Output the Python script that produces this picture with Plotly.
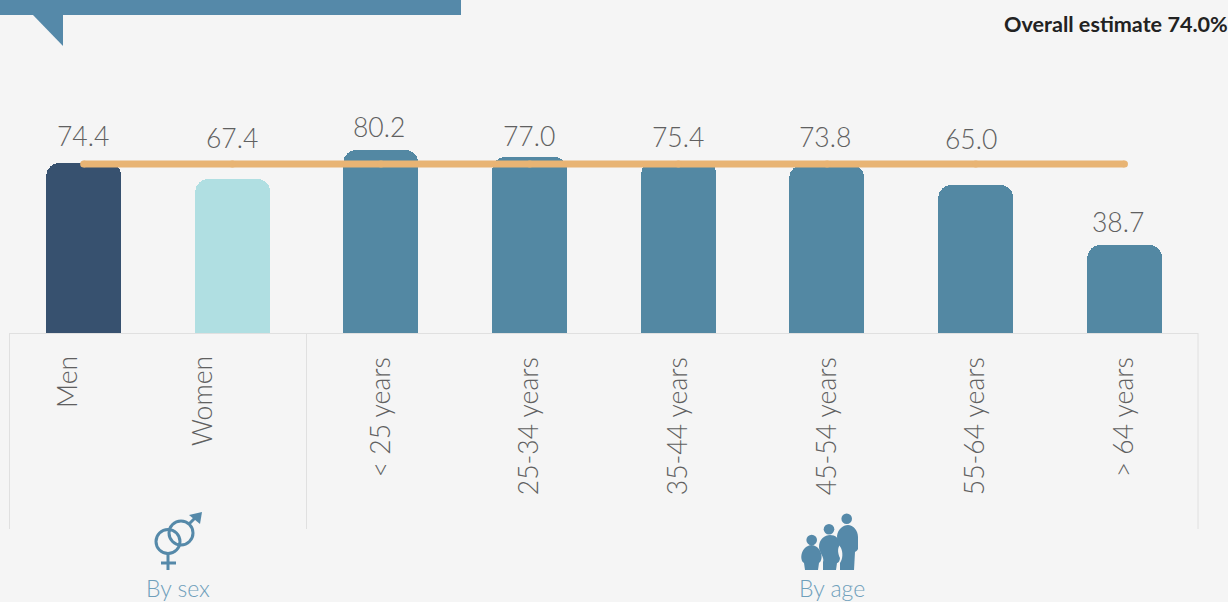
import plotly.graph_objects as go

categories = ["Men", "Women", "< 25 years", "25-34 years", "35-44 years", "45-54 years", "55-64 years", "> 64 years"]
values = [74.4, 67.4, 80.2, 77.0, 75.4, 73.8, 65.0, 38.7]
overall = [74.0] * len(categories)
bar_colors = ["#37516f", "#b0dfe2", "#5388a3", "#5388a3", "#5388a3", "#5388a3", "#5388a3", "#5388a3"]
age_ticks = categories[2:]

W, H = 1228, 602
BASE, TOP_SCALE = 333, 2.283
BLUE, GREY, RULE = "#5589a9", "#606060", "#e0e0e0"
LABEL_FONT = dict(family="Lato", size=26.5, color=GREY, weight=300)

fig = go.Figure()
fig.add_bar(x=categories, y=values, marker=dict(color=bar_colors, line_width=0), width=75 / 148.7, hoverinfo="x+y")
fig.add_scatter(x=categories, y=overall, mode="lines+markers", line=dict(color="#e8b474", width=7),
                marker=dict(color="#e8b474", size=7), hoverinfo="y")
fig.add_scatter(x=[0], y=[0], xaxis="x2", yaxis="y2", mode="markers", marker=dict(opacity=0), hoverinfo="skip")

# value labels: offset (px) from the bar top, as placed in the reference
lift = [27, 41, 23, 21, 24, 28, 46, 23]
nudge = [-1, 0, -2, -1, 0, -2, -5, -6]
ann = []
for c, v, dy, dx in zip(categories, values, lift, nudge):
    ann.append(dict(x=c, y=v, xref="x", yref="y", text=f"{v:.1f}", showarrow=False, yshift=dy, xshift=dx,
                    yanchor="middle", font=LABEL_FONT))
# sex labels sit off-centre in the reference
for c, px in zip(categories[:2], [67, 202]):
    ann.append(dict(x=px, y=354, xref="x2", yref="y2", text=c, textangle=-90, showarrow=False,
                    xanchor="center", yanchor="top", font=LABEL_FONT))
ann.append(dict(x=1228, xshift=1.5, y=23.5, xref="x2", yref="y2", text="<b>Overall estimate 74.0%</b>", showarrow=False,
                xanchor="right", yanchor="middle", font=dict(family="Lato", size=21.6, color="#222222")))
for t, px in [("By sex", 178), ("By age", 832)]:
    ann.append(dict(x=px, y=588, xref="x2", yref="y2", text=t, showarrow=False, xanchor="center", yanchor="middle",
                    font=dict(family="Lato", size=23, color="#6f9fbb", weight=300)))

def shp(**k):
    return dict(xref="x2", yref="y2", layer="above", **k)

shapes = [
    shp(type="rect", x0=0, x1=461, y0=0, y1=15, fillcolor=BLUE, line_width=0),
    shp(type="path", path="M33 15 L63 15 L63 46 Z", fillcolor=BLUE, line_width=0),
    shp(type="line", x0=9, x1=1198, y0=333.5, y1=333.5, line=dict(color=RULE, width=1)),
]
for px in (9.5, 306.5, 1198):
    shapes.append(shp(type="line", x0=px, x1=px, y0=333, y1=529, line=dict(color=RULE, width=1)))

# sex icon
ring = dict(color=BLUE, width=3)
shapes += [
    shp(type="circle", x0=156, x1=180, y0=529.5, y1=553.5, line=ring),
    shp(type="circle", x0=169, x1=193, y0=521, y1=545, line=ring),
    shp(type="line", x0=189, x1=198, y0=524, y1=515, line=ring),
    shp(type="path", path="M189 515 L202 512 L200 524 Z", fillcolor=BLUE, line_width=0),
    shp(type="line", x0=168, x1=168, y0=553, y1=570, line=ring),
    shp(type="line", x0=161, x1=176, y0=563, y1=563, line=ring),
]
# age icon
for cx, cy in [(811.7, 540), (829, 529.3), (846.7, 518.7)]:
    shapes.append(shp(type="circle", x0=cx - 5.3, x1=cx + 5.3, y0=cy - 5.3, y1=cy + 5.3, fillcolor=BLUE, line_width=0))
shapes += [
    shp(type="path", fillcolor=BLUE, line_width=0,
        path="M805 570 L804 563 C799 560 801 546 811.5 545 C822 546 824 560 819 563 L818 570 Z"),
    shp(type="path", fillcolor=BLUE, line_width=0,
        path="M823 570 L823 562 C825 558 819 552 819 547 C819 539 825 535 830 535 C835 535 840 538 840 545 C837 548 838 554 840 558 C840 561 838 563 837 563 L836 570 Z"),
    shp(type="path", fillcolor=BLUE, line_width=0,
        path="M840 570 L840 563 C843 559 843 552 841 548 C838 544 837 540 837 536 C838 529 843 525 848 525 C853 525 858 530 858 537 L858 549 C857 551 856 551 855 552 L854 570 Z"),
]

fig.update_layout(
    width=W, height=H, margin=dict(l=0, r=0, t=0, b=0), autosize=False,
    paper_bgcolor="#f5f5f5", plot_bgcolor="rgba(0,0,0,0)", showlegend=False,
    bargap=0, annotations=ann, shapes=shapes,
    xaxis=dict(domain=[9.3 / W, 1198.8 / W], range=[-0.5, 7.5], type="category", categoryorder="array",
               categoryarray=categories, tickmode="array", tickvals=age_ticks, ticktext=age_ticks,
               tickangle=-90, tickfont=LABEL_FONT, ticks="", ticklabelstandoff=18, showgrid=False,
               showline=False, zeroline=False, anchor="y"),
    yaxis=dict(domain=[1 - BASE / H, 1], range=[0, BASE / TOP_SCALE], visible=False, anchor="x"),
    xaxis2=dict(domain=[0, 1], range=[0, W], visible=False, anchor="y2"),
    yaxis2=dict(domain=[0, 1], range=[H, 0], visible=False, anchor="x2"),
    barcornerradius=13,
)
fig.write_html("out.html", config=dict(displayModeBar=False),
               post_script="document.body.style.margin='0';document.body.style.overflow='hidden';")
